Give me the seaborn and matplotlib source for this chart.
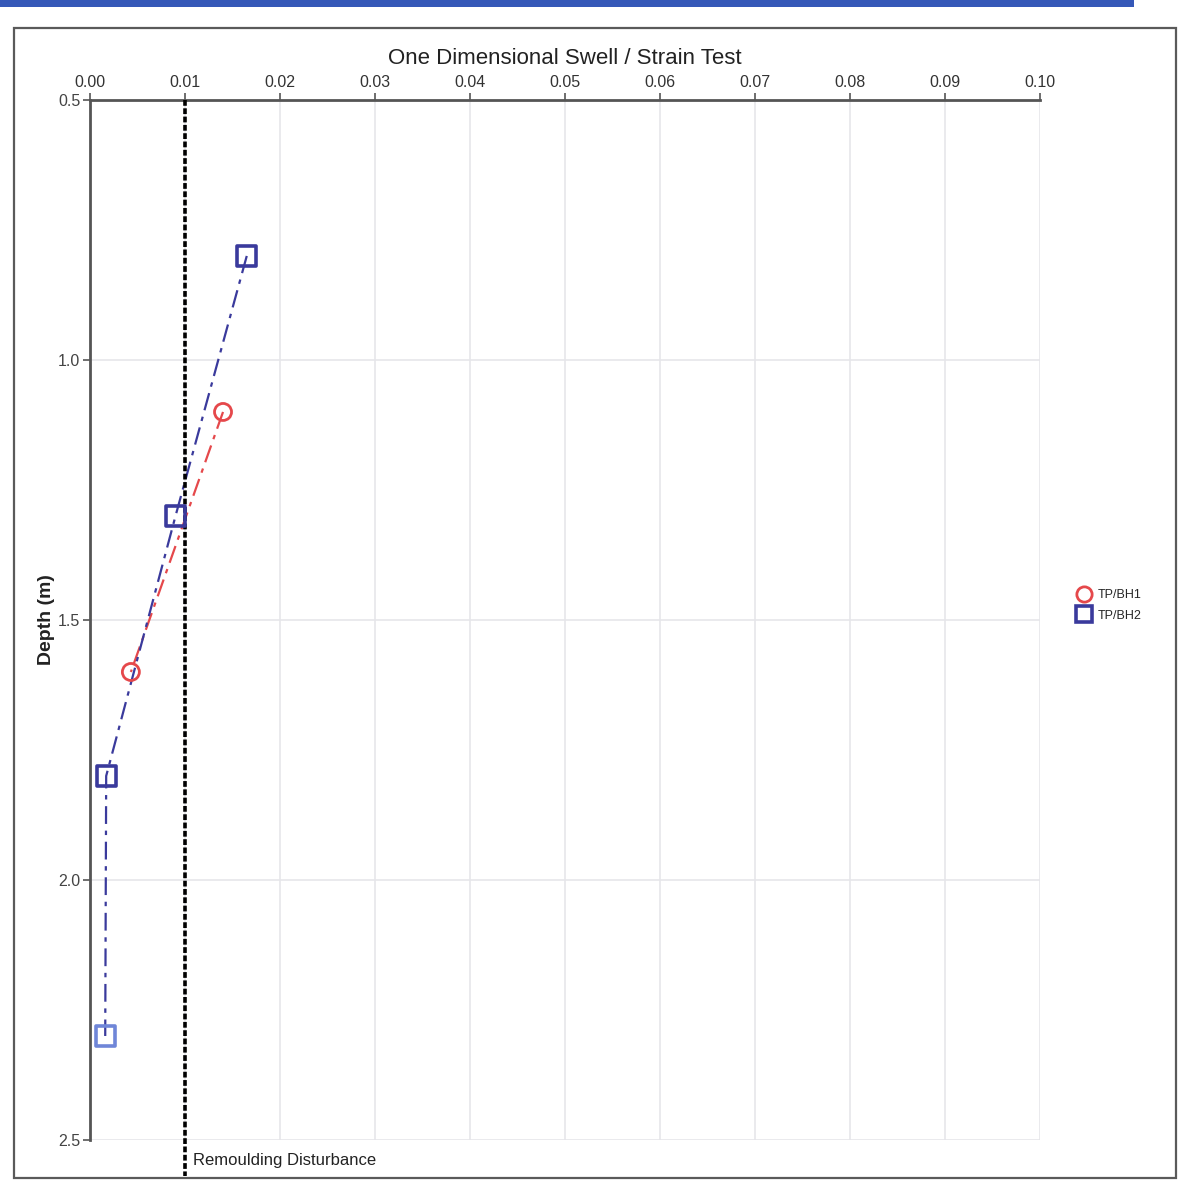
import matplotlib
matplotlib.use("Agg")
import matplotlib.pyplot as plt
from matplotlib.lines import Line2D
from matplotlib.patches import Rectangle
import numpy as np
import pandas as pd
import seaborn as sns

# Swell / strain results per borehole
bh1_depth = [1.1, 1.6]
bh1_swell = [0.0140, 0.0043]
bh2_depth = [0.8, 1.3, 1.8, 2.3]
bh2_swell = [0.0165, 0.0090, 0.0017, 0.0016]
bh2_edge = ["#3a3a9c", "#3a3a9c", "#3a3a9c", "#6f86d8"]

boreholes = ["TP/BH1", "TP/BH2"]
x_ticks = [0.00, 0.01, 0.02, 0.03, 0.04, 0.05, 0.06, 0.07, 0.08, 0.09, 0.10]
x_labels = ["0.00", "0.01", "0.02", "0.03", "0.04", "0.05", "0.06", "0.07", "0.08", "0.09", "0.10"]
y_ticks = [0.5, 1.0, 1.5, 2.0, 2.5]
y_labels = ["0.5", "1.0", "1.5", "2.0", "2.5"]
disturbance_swell = 0.01

df = pd.DataFrame({
    "Borehole": ["TP/BH1"] * len(bh1_depth) + ["TP/BH2"] * len(bh2_depth),
    "Swell": bh1_swell + bh2_swell,
    "Depth": bh1_depth + bh2_depth,
})

sns.set_theme(style="whitegrid")
plt.rcParams["font.family"] = ["Liberation Sans", "DejaVu Sans"]

colors = {"TP/BH1": "#e5484b", "TP/BH2": "#3a3a9c"}

fig = plt.figure(figsize=(11.94, 11.87), dpi=100)
ax = fig.add_axes([0.0754, 0.0396, 0.7956, 0.8762])

# outer page frame and header band
fig.patches.append(Rectangle((0.012, 0.008), 0.973, 0.968, transform=fig.transFigure,
                             fill=False, edgecolor="#5a5a5a", linewidth=1.6))
fig.patches.append(Rectangle((0.0, 0.994), 0.95, 0.006, transform=fig.transFigure,
                             facecolor="#3558b8", edgecolor="none"))

sns.lineplot(data=df, x="Swell", y="Depth", hue="Borehole", palette=colors,
             sort=False, estimator=None, ax=ax, legend=False,
             linewidth=1.6, dashes=False, linestyle=(0, (8, 3, 2, 3)))

# hollow markers
ax.scatter(bh1_swell, bh1_depth, s=150, facecolors="none",
           edgecolors=colors["TP/BH1"], linewidths=2.0, marker="o", zorder=4)
ax.scatter(bh2_swell, bh2_depth, s=190, facecolors="none",
           edgecolors=bh2_edge, linewidths=2.6, marker="s", zorder=4)

# remoulding disturbance limit
ax.plot([disturbance_swell, disturbance_swell], [0.5, 2.57], color="black",
        linewidth=2.6, linestyle=(0, (1.6, 0.7)), clip_on=False, zorder=3)
ax.text(disturbance_swell + 0.0008, 2.54, "Remoulding Disturbance", fontsize=12,
        color="#222222", va="center", ha="left", clip_on=False)

ax.set_xlim(0.0, 0.10)
ax.set_ylim(2.5, 0.5)
ax.xaxis.tick_top()
ax.xaxis.set_label_position("top")
ax.set_xticks(x_ticks)
ax.set_xticklabels(x_labels, fontsize=11.5, color="#333333")
ax.set_yticks(y_ticks)
ax.set_yticklabels(y_labels, fontsize=11.5, color="#444444")
ax.set_xlabel("One Dimensional Swell / Strain Test", fontsize=16, color="#222222", labelpad=8)
ax.set_ylabel("Depth (m)", fontsize=14, fontweight="bold", color="#222222", labelpad=2)
ax.tick_params(axis="both", which="major", length=5, width=1.2, color="#555555",
               direction="out", pad=2)
ax.tick_params(axis="x", top=True, bottom=False)
ax.tick_params(axis="y", left=True)

ax.grid(True, color="#e6e6ea", linewidth=1.2)
for side in ["right", "bottom"]:
    ax.spines[side].set_visible(False)
for side in ["left", "top"]:
    ax.spines[side].set_visible(True)
    ax.spines[side].set_color("#555555")
    ax.spines[side].set_linewidth(2.0)
ax.set_facecolor("white")

handles = [
    Line2D([], [], linestyle="none", marker="o", markersize=11, markerfacecolor="none",
           markeredgecolor=colors["TP/BH1"], markeredgewidth=2.0),
    Line2D([], [], linestyle="none", marker="s", markersize=11.5, markerfacecolor="none",
           markeredgecolor=colors["TP/BH2"], markeredgewidth=2.6),
]
fig.legend(handles, boreholes, loc="center left", bbox_to_anchor=(0.893, 0.49),
           frameon=False, fontsize=9, handletextpad=0.6, labelspacing=0.7,
           handlelength=1.0)

fig.savefig("out.png", dpi=100, facecolor="white")
